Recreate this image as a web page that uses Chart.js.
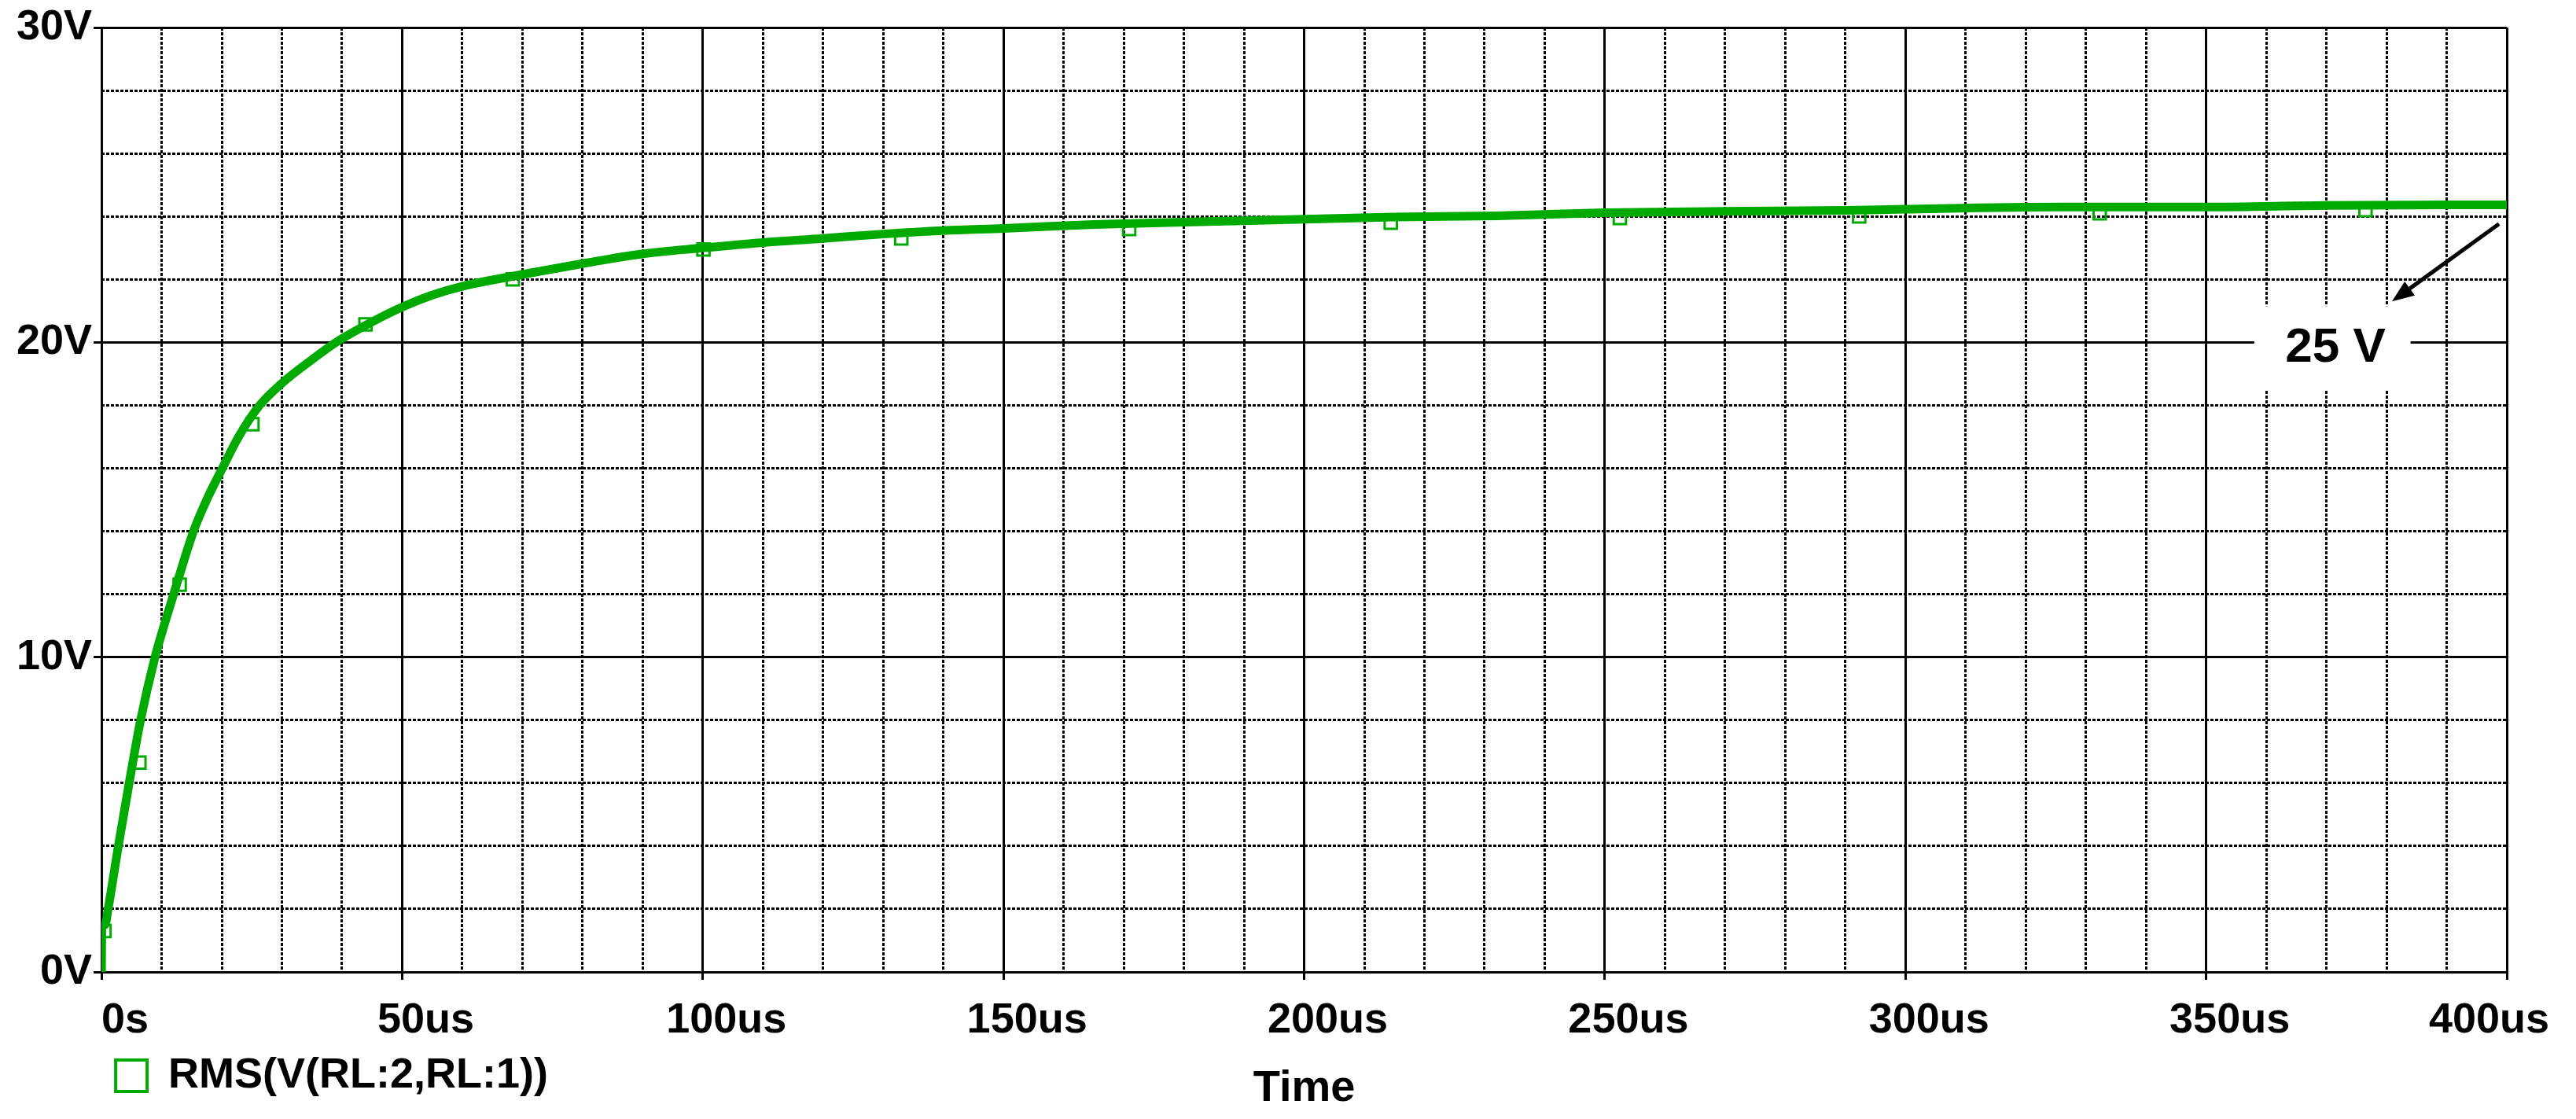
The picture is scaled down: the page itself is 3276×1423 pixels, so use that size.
<!DOCTYPE html>
<html>
<head>
<meta charset="utf-8">
<title>RMS(V(RL:2,RL:1))</title>
<script src="https://cdn.jsdelivr.net/npm/chart.js@4.4.1/dist/chart.umd.min.js"></script>
<style>
  html, body { margin: 0; padding: 0; background: #fff; }
  canvas { display: block; }
</style>
</head>
<body>
<canvas id="graficoRMS" width="3276" height="1423"></canvas>
<script>
// Tempo (us) e tensao RMS (V)
const tempos = [0, 0.05, 0.6, 1.1, 2.8, 4.6, 6.5, 8.9, 10.4, 12.0, 13.6, 15.3, 17.5, 20.1, 22.8, 26.3, 30, 35, 39, 45, 50, 55, 60, 69.8, 80, 89.6, 100, 110, 120, 130, 140, 150, 165, 180, 200, 215, 232, 250, 270, 290, 300, 326, 350, 370, 400];
const tensaoRMS = [0, 1.4, 1.5, 2.0, 4.0, 6.0, 8.0, 10.0, 11.0, 12.0, 13.0, 14.0, 15.0, 16.0, 17.0, 18.0, 18.7, 19.45, 20.0, 20.65, 21.12, 21.5, 21.78, 22.15, 22.5, 22.8, 23.0, 23.17, 23.3, 23.44, 23.55, 23.62, 23.74, 23.82, 23.91, 23.98, 24.02, 24.12, 24.16, 24.19, 24.23, 24.3, 24.3, 24.35, 24.37];

// Marcadores (quadrados vazios) do PSpice
const marcadorTempo = [0.5, 6.3, 13.0, 25.1, 43.9, 68.4, 100.1, 133, 170.9, 214.4, 252.5, 292.3, 332.3, 376.5];
const marcadorTensao = [1.3, 6.65, 12.3, 17.4, 20.57, 22.0, 22.95, 23.3, 23.6, 23.8, 23.95, 24.0, 24.1, 24.2];

// Rotulos dos eixos
const rotulosTempo = ['0s', '50us', '100us', '150us', '200us', '250us', '300us', '350us', '400us'];
const rotulosTensao = ['0V', '10V', '20V', '30V'];
const nomeSerie = 'RMS(V(RL:2,RL:1))';

const verde = '#00aa00';
const fonte = '"Liberation Sans", Arial, sans-serif';

Chart.defaults.font.family = fonte;
Chart.defaults.font.weight = 'bold';
Chart.defaults.color = '#000';

// Anotacao "25 V" com seta (posicoes em unidades dos eixos)
const rotulo25V = {
  id: 'rotulo25V',
  afterDatasetsDraw(chart) {
    const ctx = chart.ctx;
    const x = chart.scales.x, y = chart.scales.y;
    ctx.save();
    // caixa branca que apaga a grade atras do texto
    const x1 = x.getPixelForValue(358), x2 = x.getPixelForValue(384);
    const y1 = y.getPixelForValue(21.15), y2 = y.getPixelForValue(18.5);
    ctx.fillStyle = '#fff';
    ctx.fillRect(x1, y1, x2 - x1, y2 - y1);

    ctx.fillStyle = '#000';
    ctx.font = 'bold 62px ' + fonte;
    ctx.textAlign = 'center';
    ctx.textBaseline = 'middle';
    ctx.fillText('25 V', x.getPixelForValue(371.5), y.getPixelForValue(19.8));

    // seta
    const ax = x.getPixelForValue(398.7), ay = y.getPixelForValue(23.76);
    const bx = x.getPixelForValue(380.9), by = y.getPixelForValue(21.3);
    const ang = Math.atan2(by - ay, bx - ax);
    const ponta = 28, meia = 11;
    const cx = bx - Math.cos(ang) * ponta, cy = by - Math.sin(ang) * ponta;
    ctx.strokeStyle = '#000';
    ctx.lineWidth = 5;
    ctx.beginPath();
    ctx.moveTo(ax, ay);
    ctx.lineTo(cx, cy);
    ctx.stroke();
    ctx.beginPath();
    ctx.moveTo(bx, by);
    ctx.lineTo(cx + Math.sin(ang) * meia, cy - Math.cos(ang) * meia);
    ctx.lineTo(cx - Math.sin(ang) * meia, cy + Math.cos(ang) * meia);
    ctx.closePath();
    ctx.fill();
    ctx.restore();
  }
};

const ctx = document.getElementById('graficoRMS').getContext('2d');
new Chart(ctx, {
  type: 'line',
  data: {
    datasets: [
      {
        label: nomeSerie,
        data: tempos.map((t, i) => ({ x: t, y: tensaoRMS[i] })),
        borderColor: verde,
        borderWidth: 11,
        cubicInterpolationMode: 'monotone',
        pointRadius: 0,
        pointStyle: 'rect',
        pointBackgroundColor: '#fff',
        pointBorderColor: verde,
        pointBorderWidth: 4,
        order: 1
      },
      {
        label: 'marcadores',
        data: marcadorTempo.map((t, i) => ({ x: t, y: marcadorTensao[i] })),
        showLine: false,
        pointStyle: 'rect',
        pointRadius: 11,
        pointBorderWidth: 3,
        pointBorderColor: verde,
        pointBackgroundColor: 'rgba(0,0,0,0)',
        order: 0
      }
    ]
  },
  options: {
    responsive: false,
    animation: false,
    devicePixelRatio: 1,
    layout: {
      autoPadding: false,
      padding: { left: 19, right: 88, top: 35, bottom: 18 }
    },
    plugins: {
      tooltip: { enabled: false },
      legend: {
        position: 'bottom',
        align: 'start',
        fullSize: false,
        labels: {
          usePointStyle: true,
          boxWidth: 40,
          boxHeight: 40,
          padding: 18,
          font: { size: 54, weight: 'bold' },
          filter: item => item.datasetIndex === 0
        }
      }
    },
    scales: {
      x: {
        type: 'linear',
        position: 'bottom',
        min: 0,
        max: 400,
        grid: { color: '#000', lineWidth: 3, tickLength: 10 },
        border: { color: '#000', width: 3 },
        ticks: {
          stepSize: 50,
          maxRotation: 0,
          autoSkip: false,
          padding: 20,
          labelOffset: 30,
          font: { size: 54, weight: 'bold' },
          // ultimo rotulo empurrado para dentro da tela
          callback: v => v === 400 ? rotulosTempo[v / 50] + '       ' : rotulosTempo[v / 50]
        },
        // o rotulo largo do fim nao deve encolher a area do grafico
        afterFit: eixo => { eixo.paddingLeft = 0; eixo.paddingRight = 0; },
        title: {
          display: true,
          text: 'Time',
          font: { size: 56, weight: 'bold' },
          padding: { top: 0.6, bottom: -95.6 }
        }
      },
      xMenor: {
        type: 'linear',
        position: 'bottom',
        min: 0,
        max: 400,
        grid: { color: '#000', lineWidth: 3, drawTicks: false },
        border: { display: false, dash: [4, 2] },
        ticks: { display: false, stepSize: 10, maxTicksLimit: 100, font: { size: 10 } }
      },
      y: {
        type: 'linear',
        position: 'left',
        min: 0,
        max: 30,
        grid: { color: '#000', lineWidth: 3, tickLength: 10 },
        border: { color: '#000', width: 3 },
        ticks: {
          stepSize: 10,
          padding: 2,
          font: { size: 54, weight: 'bold' },
          callback: v => rotulosTensao[v / 10]
        }
      },
      yMenor: {
        type: 'linear',
        position: 'left',
        min: 0,
        max: 30,
        grid: { color: '#000', lineWidth: 3, drawTicks: false },
        border: { display: false, dash: [4, 2] },
        ticks: { display: false, stepSize: 2, maxTicksLimit: 100, font: { size: 10 } }
      }
    }
  },
  plugins: [rotulo25V]
});
</script>
</body>
</html>
